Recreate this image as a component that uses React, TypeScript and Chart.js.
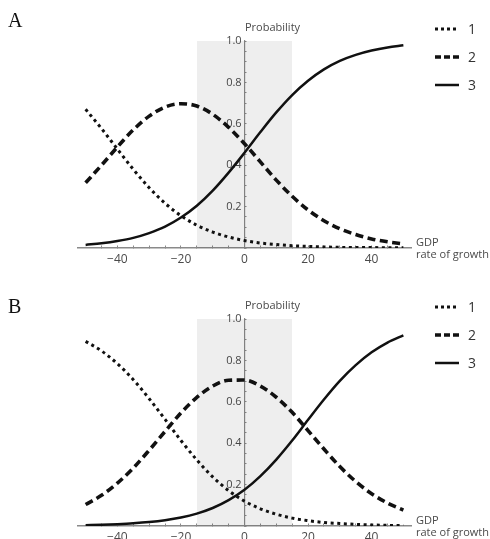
import React, { useEffect, useRef } from "react";
import { Chart, registerables } from "chart.js";
Chart.register(...registerables);

// GDP rate of growth (x) sample points
const xValues = [-50, -45, -40, -35, -30, -25, -20, -15, -10, -5, 0, 5, 10, 15, 20, 25, 30, 35, 40, 45, 50];

// Panel A probabilities
const panelA1 = [0.670, 0.577, 0.478, 0.380, 0.291, 0.216, 0.156, 0.110, 0.077, 0.053, 0.036, 0.024, 0.017, 0.011, 0.008, 0.005, 0.003, 0.002, 0.002, 0.001, 0.001];
const panelA2 = [0.315, 0.400, 0.488, 0.571, 0.637, 0.681, 0.697, 0.686, 0.646, 0.583, 0.504, 0.416, 0.328, 0.250, 0.184, 0.132, 0.093, 0.065, 0.044, 0.030, 0.020];
const panelA3 = [0.015, 0.023, 0.034, 0.049, 0.072, 0.103, 0.147, 0.204, 0.277, 0.364, 0.460, 0.560, 0.655, 0.739, 0.808, 0.863, 0.904, 0.933, 0.954, 0.969, 0.979];

// Panel B probabilities
const panelB1 = [0.892, 0.846, 0.784, 0.707, 0.615, 0.515, 0.413, 0.319, 0.237, 0.171, 0.120, 0.083, 0.057, 0.038, 0.026, 0.017, 0.012, 0.008, 0.005, 0.003, 0.002];
const panelB2 = [0.104, 0.148, 0.207, 0.280, 0.366, 0.457, 0.546, 0.621, 0.676, 0.704, 0.705, 0.676, 0.622, 0.549, 0.461, 0.372, 0.287, 0.215, 0.156, 0.111, 0.077];
const panelB3 = [0.004, 0.006, 0.009, 0.013, 0.019, 0.028, 0.041, 0.060, 0.087, 0.125, 0.175, 0.241, 0.321, 0.413, 0.513, 0.611, 0.701, 0.777, 0.839, 0.886, 0.921];

// shaded band on the x axis
const shadeRange = [-15, 15];
const shadeTop = 1;

const xTickLabels = [-40, -20, 0, 20, 40];
const yTickLabels = [0.2, 0.4, 0.6, 0.8, 1.0];
const seriesLabels = ["1", "2", "3"];
const yAxisTitle = "Probability";
const xAxisTitle = ["GDP", "rate of growth"];

const FONT = "'Open Sans', 'DejaVu Sans', sans-serif";
const LABEL_COLOR = "#4a4a4a";
const AXIS_COLOR = "#8a8a8a";

const near = (a: number, b: number) => Math.abs(a - b) < 1e-6;

function makeConfig(p1: number[], p2: number[], p3: number[]): any {
  const pts = (arr: number[]) => xValues.map((x, i) => ({ x, y: arr[i] }));
  const common = { pointRadius: 0, fill: false, cubicInterpolationMode: "monotone", borderColor: "#111" };
  return {
    type: "line",
    data: {
      datasets: [
        { ...common, label: seriesLabels[0], data: pts(p1), borderWidth: 3, borderDash: [3, 3.6] },
        { ...common, label: seriesLabels[1], data: pts(p2), borderWidth: 3.6, borderDash: [8, 4.5] },
        { ...common, label: seriesLabels[2], data: pts(p3), borderWidth: 2.5 },
        {
          label: "shade",
          data: shadeRange.map((x) => ({ x, y: shadeTop })),
          fill: "origin",
          backgroundColor: "rgba(0,0,0,0.065)",
          borderWidth: 0,
          pointRadius: 0,
          tension: 0,
        },
      ],
    },
    options: {
      responsive: false,
      animation: false,
      events: [],
      layout: { padding: { left: 78, right: 79, top: 41, bottom: 30 } },
      plugins: { legend: { display: false }, tooltip: { enabled: false }, title: { display: false } },
      scales: {
        x: {
          type: "linear",
          min: -52.4,
          max: 52.4,
          position: { y: 0 },
          afterBuildTicks: (axis: any) => {
            axis.ticks = axis.ticks.filter((t: any) => near(t.value / 5, Math.round(t.value / 5)));
          },
          grid: { drawOnChartArea: false, tickLength: -3, color: AXIS_COLOR, tickWidth: 1 },
          border: { color: AXIS_COLOR, width: 1.5 },
          ticks: {
            stepSize: 5,
            autoSkip: false,
            maxRotation: 0,
            minRotation: 0,
            padding: 7,
            color: LABEL_COLOR,
            font: { family: FONT, size: 12 },
            callback: (v: number) => {
              const hit = xTickLabels.find((t) => near(t, v));
              if (hit === undefined) return "";
              return hit < 0 ? "\u2212" + Math.abs(hit) : String(hit);
            },
          },
        },
        y: {
          type: "linear",
          min: 0,
          max: 1,
          position: { x: 0 },
          grid: { drawOnChartArea: false, tickLength: -2.5, color: AXIS_COLOR, tickWidth: 1 },
          border: { color: AXIS_COLOR, width: 1.2 },
          ticks: {
            stepSize: 0.05,
            autoSkip: false,
            padding: 0,
            color: LABEL_COLOR,
            font: { family: FONT, size: 11 },
            callback: (v: number) => {
              const hit = yTickLabels.find((t) => near(t, v));
              return hit === undefined ? "" : hit.toFixed(1) + " ";
            },
          },
        },
      },
    },
  };
}

function Legend() {
  const rows = [
    { dash: "3 3", w: 3 },
    { dash: "6 3", w: 3.5 },
    { dash: "", w: 2.5 },
  ];
  return (
    <>
      {rows.map((r, i) => (
        <div key={i} style={{ position: "absolute", left: 435, top: 29 + i * 28 - 9, height: 18, width: 60 }}>
          <svg width={26} height={18} style={{ position: "absolute", left: 0, top: 0 }}>
            <line x1={0} y1={9} x2={24} y2={9} stroke="#111" strokeWidth={r.w} strokeDasharray={r.dash || undefined} />
          </svg>
          <span
            style={{
              position: "absolute",
              left: 33,
              top: 0,
              lineHeight: "18px",
              fontFamily: FONT,
              fontSize: 14,
              color: "#333",
            }}
          >
            {seriesLabels[i]}
          </span>
        </div>
      ))}
    </>
  );
}

function Panel(props: { letter: string; letterTop: number; p1: number[]; p2: number[]; p3: number[]; top: number; height: number }) {
  const ref = useRef<HTMLCanvasElement>(null);
  useEffect(() => {
    if (!ref.current) return;
    const chart = new Chart(ref.current, makeConfig(props.p1, props.p2, props.p3));
    return () => chart.destroy();
  }, []);
  return (
    <div style={{ position: "absolute", left: 0, top: props.top, width: 490, height: props.height, overflow: "hidden" }}>
      <canvas ref={ref} width={490} height={278} style={{ position: "absolute", left: 0, top: 0, width: 490, height: 278 }} />
      <div
        style={{
          position: "absolute",
          left: 8,
          top: props.letterTop,
          fontFamily: "'Liberation Serif', 'Times New Roman', serif",
          fontSize: 20,
          lineHeight: "20px",
          color: "#111",
        }}
      >
        {props.letter}
      </div>
      <div
        style={{
          position: "absolute",
          left: 245,
          top: 21,
          fontFamily: FONT,
          fontSize: 11,
          lineHeight: "12px",
          color: LABEL_COLOR,
        }}
      >
        {yAxisTitle}
      </div>
      <div
        style={{
          position: "absolute",
          left: 416,
          top: 236,
          fontFamily: FONT,
          fontSize: 11,
          lineHeight: "12px",
          color: LABEL_COLOR,
          whiteSpace: "nowrap",
        }}
      >
        {xAxisTitle[0]}
        <br />
        {xAxisTitle[1]}
      </div>
      <Legend />
    </div>
  );
}

export default function App() {
  return (
    <div style={{ position: "absolute", left: 0, top: 0, width: 490, height: 539, overflow: "hidden", background: "#fff" }}>
      <Panel letter="A" letterTop={10} p1={panelA1} p2={panelA2} p3={panelA3} top={0} height={278} />
      <Panel letter="B" letterTop={18} p1={panelB1} p2={panelB2} p3={panelB3} top={278} height={261} />
    </div>
  );
}
